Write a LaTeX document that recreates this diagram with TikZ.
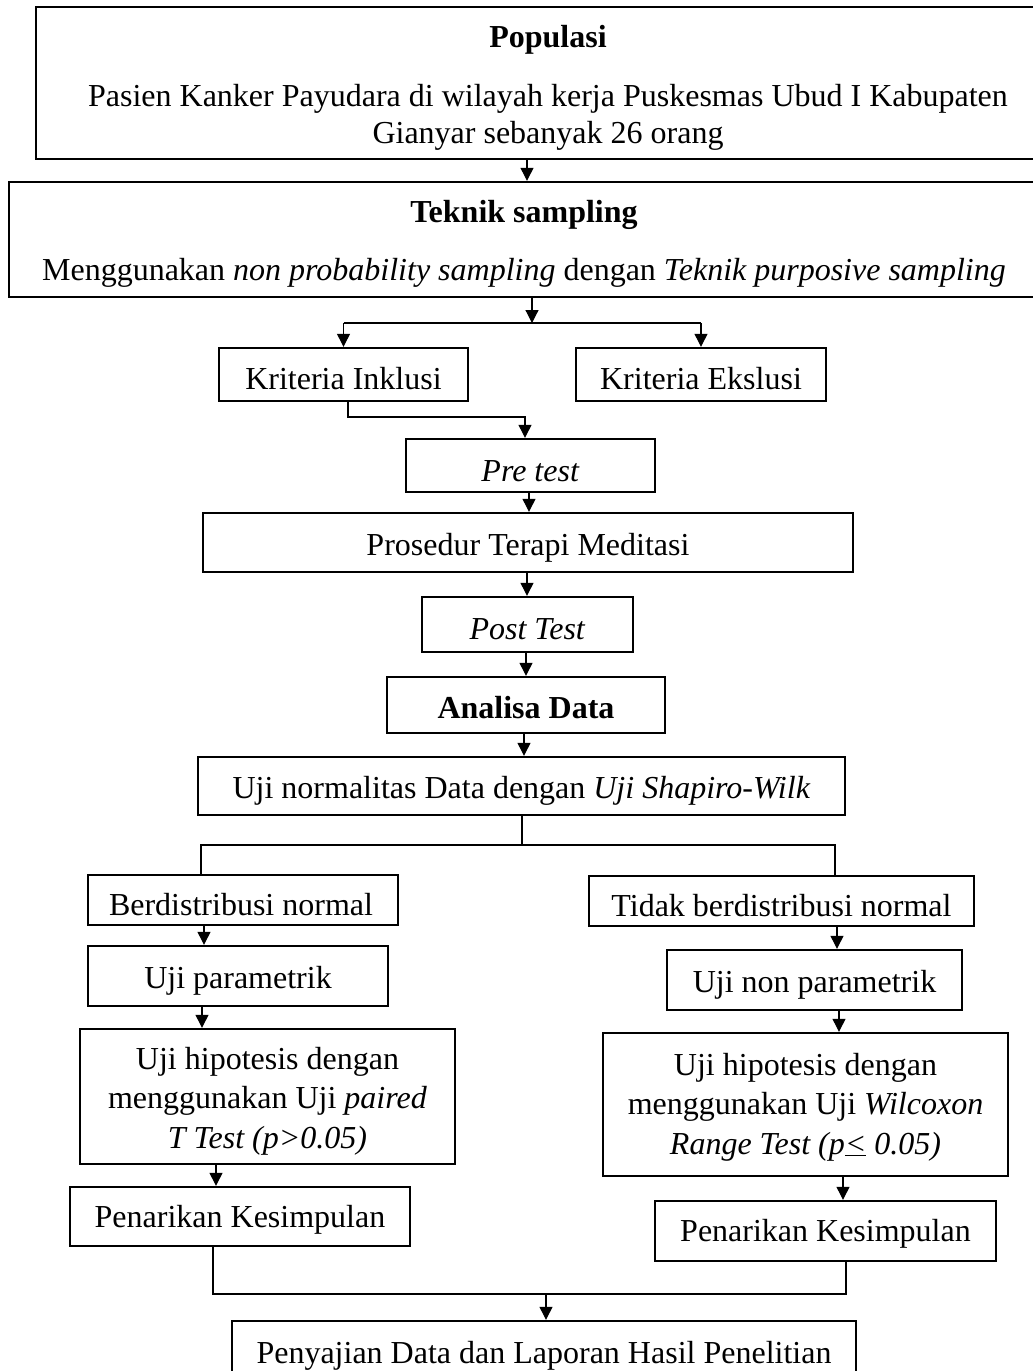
\documentclass[tikz,border=0pt]{standalone}
\usepackage{fontspec}
\setmainfont{Liberation Serif}
\usetikzlibrary{arrows.meta}
\begin{document}
\begin{tikzpicture}[x=1pt,y=-1pt,
  box/.style={draw, line width=2.4pt, inner sep=0pt, anchor=center},
  lbl/.style={anchor=base, inner sep=0pt, font=\fontsize{32}{38}\selectfont},
  conn/.style={line width=1.2pt},
  arr/.style={line width=1.2pt, -{Triangle[length=13pt,width=13pt]}}]
\useasboundingbox (0,0) rectangle (1033,1371);
\clip (0,0) rectangle (1033,1371);

% ---------- boxes ----------
\node[box, minimum width=1024pt, minimum height=152pt] (p1) at (548,83) {};
\node[box, minimum width=1030pt, minimum height=115pt] (p2) at (524,239.5) {};
\node[box, minimum width=249pt, minimum height=53pt] (inkl) at (343.5,374.5) {};
\node[box, minimum width=250pt, minimum height=53pt] (eksl) at (701,374.5) {};
\node[box, minimum width=249pt, minimum height=53pt] (pre) at (530.5,465.5) {};
\node[box, minimum width=650pt, minimum height=59pt] (pros) at (528,542.5) {};
\node[box, minimum width=211pt, minimum height=55pt] (post) at (527.5,624.5) {};
\node[box, minimum width=278pt, minimum height=56pt] (anal) at (526,705) {};
\node[box, minimum width=647pt, minimum height=58pt] (norm) at (521.5,786) {};
\node[box, minimum width=310pt, minimum height=50pt] (berd) at (243,900) {};
\node[box, minimum width=385pt, minimum height=50pt] (tidak) at (781.5,901) {};
\node[box, minimum width=300pt, minimum height=60pt] (upar) at (238,976) {};
\node[box, minimum width=375pt, minimum height=135pt] (hipL) at (267.5,1096.5) {};
\node[box, minimum width=340pt, minimum height=59pt] (penL) at (240,1216.5) {};
\node[box, minimum width=295pt, minimum height=60pt] (unon) at (814.5,980) {};
\node[box, minimum width=405pt, minimum height=143pt] (hipR) at (805.5,1104.5) {};
\node[box, minimum width=341pt, minimum height=60pt] (penR) at (825.5,1231) {};
\node[box, minimum width=624pt, minimum height=99pt] (final) at (544,1370.5) {};

% ---------- texts ----------
\node[lbl] (t1a) at (548,47) {\textbf{Populasi}};
\node[lbl] (t1b) at (548,106) {Pasien Kanker Payudara di wilayah kerja Puskesmas Ubud I Kabupaten};
\node[lbl] (t1c) at (548,143) {Gianyar sebanyak 26 orang};
\node[lbl] (t2a) at (524,222) {\textbf{Teknik sampling}};
\node[lbl] (t2b) at (524,280) {Menggunakan \textit{non probability sampling} dengan \textit{Teknik purposive sampling}};
\node[lbl] (tinkl) at (343.5,389) {Kriteria Inklusi};
\node[lbl] (teksl) at (701,389) {Kriteria Ekslusi};
\node[lbl] (tpre) at (530.5,481) {\textit{Pre test}};
\node[lbl] (tpros) at (528,555) {Prosedur Terapi Meditasi};
\node[lbl] (tpost) at (527.5,639) {\textit{Post Test}};
\node[lbl] (tanal) at (526,718) {\textbf{Analisa Data}};
\node[lbl] (tnorm) at (521.5,798) {Uji normalitas Data dengan \textit{Uji Shapiro-Wilk}};
\node[lbl] (tberd) at (241,915) {Berdistribusi normal};
\node[lbl] (ttidak) at (781.5,916) {Tidak berdistribusi normal};
\node[lbl] (tupar) at (238,988) {Uji parametrik};
\node[lbl] (thL1) at (267.5,1069) {Uji hipotesis dengan};
\node[lbl] (thL2) at (267.5,1108) {menggunakan Uji \textit{paired}};
\node[lbl] (thL3) at (267.5,1148) {\textit{T Test (p>0.05)}};
\node[lbl] (tpenL) at (240,1227) {Penarikan Kesimpulan};
\node[lbl] (tunon) at (814.5,992) {Uji non parametrik};
\node[lbl] (thR1) at (805.5,1075) {Uji hipotesis dengan};
\node[lbl] (thR2) at (805.5,1114) {menggunakan Uji \textit{Wilcoxon}};
\node[lbl] (thR3) at (805.5,1154) {\textit{Range Test (p\underline{<} 0.05)}};
\node[lbl] (tpenR) at (825.5,1241) {Penarikan Kesimpulan};
\node[lbl] (tfinal) at (544,1363) {Penyajian Data dan Laporan Hasil Penelitian};

% ---------- helper coordinates ----------
\coordinate (x1) at (527,0);
\coordinate (br) at (532,323);
\coordinate (k1) at (348,417);
\coordinate (k2) at (525,417);
\coordinate (x2) at (529,0);
\coordinate (x3) at (527,0);
\coordinate (x4) at (526,0);
\coordinate (x5) at (524,0);
\coordinate (s0) at (522,845);
\coordinate (sL) at (201,845);
\coordinate (sR) at (835,845);
\coordinate (xl1) at (204,0);
\coordinate (xl2) at (202,0);
\coordinate (xl3) at (216,0);
\coordinate (xr1) at (837,0);
\coordinate (xr2) at (839,0);
\coordinate (xr3) at (843,0);
\coordinate (mL) at (213,1294);
\coordinate (mR) at (846,1294);
\coordinate (mM) at (546,1294);

% ---------- connectors ----------
\draw[arr] (p1.south -| x1) -- (p2.north -| x1);
\draw[arr] (p2.south -| br) -- (br);
\draw[conn] (inkl.north |- br) -- (eksl.north |- br);
\draw[arr] (inkl.north |- br) -- (inkl.north);
\draw[arr] (eksl.north |- br) -- (eksl.north);
\draw[arr] (inkl.south -| k1) -- (k1) -- (k2) -- (pre.north -| k2);
\draw[arr] (pre.south -| x2) -- (pros.north -| x2);
\draw[arr] (pros.south -| x3) -- (post.north -| x3);
\draw[arr] (post.south -| x4) -- (anal.north -| x4);
\draw[arr] (anal.south -| x5) -- (norm.north -| x5);
\draw[conn] (norm.south -| s0) -- (s0);
\draw[conn] (berd.north -| sL) -- (sL) -- (sR) -- (tidak.north -| sR);
\draw[arr] (berd.south -| xl1) -- (upar.north -| xl1);
\draw[arr] (upar.south -| xl2) -- (hipL.north -| xl2);
\draw[arr] (hipL.south -| xl3) -- (penL.north -| xl3);
\draw[arr] (tidak.south -| xr1) -- (unon.north -| xr1);
\draw[arr] (unon.south -| xr2) -- (hipR.north -| xr2);
\draw[arr] (hipR.south -| xr3) -- (penR.north -| xr3);
\draw[conn] (penL.south -| mL) -- (mL) -- (mR) -- (penR.south -| mR);
\draw[arr] (mM) -- (final.north -| mM);
\end{tikzpicture}
\end{document}
